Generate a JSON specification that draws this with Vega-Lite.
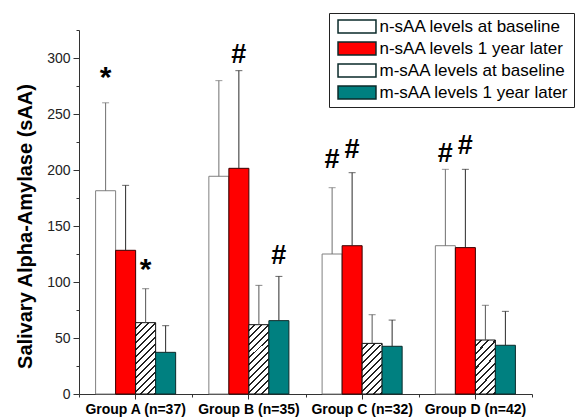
{
  "$schema": "https://vega.github.io/schema/vega-lite/v6.json",
  "width": 453,
  "height": 364,
  "autosize": {"type": "none"},
  "padding": {"left": 79, "top": 30, "right": 43, "bottom": 24},
  "background": "white",
  "config": {
    "view": {"stroke": null},
    "font": "Liberation Sans",
    "axis": {"domainColor": "#333333", "tickColor": "#333333", "labelColor": "#111111", "grid": false}
  },
  "datasets": {
    "bars": [
      {"group": "Group A (n=37)", "series": "n-sAA levels at baseline", "mean": 181.5, "upper": 260},
      {"group": "Group A (n=37)", "series": "n-sAA levels 1 year later", "mean": 128.3, "upper": 186.3},
      {"group": "Group A (n=37)", "series": "m-sAA levels at baseline", "mean": 63.7, "upper": 94},
      {"group": "Group A (n=37)", "series": "m-sAA levels 1 year later", "mean": 37.2, "upper": 61},
      {"group": "Group B (n=35)", "series": "n-sAA levels at baseline", "mean": 194.4, "upper": 279.8},
      {"group": "Group B (n=35)", "series": "n-sAA levels 1 year later", "mean": 201.5, "upper": 288.7},
      {"group": "Group B (n=35)", "series": "m-sAA levels at baseline", "mean": 61.9, "upper": 97},
      {"group": "Group B (n=35)", "series": "m-sAA levels 1 year later", "mean": 65.5, "upper": 105},
      {"group": "Group C (n=32)", "series": "n-sAA levels at baseline", "mean": 125, "upper": 184.2},
      {"group": "Group C (n=32)", "series": "n-sAA levels 1 year later", "mean": 132.4, "upper": 197.6},
      {"group": "Group C (n=32)", "series": "m-sAA levels at baseline", "mean": 45.2, "upper": 70.8},
      {"group": "Group C (n=32)", "series": "m-sAA levels 1 year later", "mean": 42.6, "upper": 66},
      {"group": "Group D (n=42)", "series": "n-sAA levels at baseline", "mean": 132.4, "upper": 200.6},
      {"group": "Group D (n=42)", "series": "n-sAA levels 1 year later", "mean": 130.7, "upper": 200.6},
      {"group": "Group D (n=42)", "series": "m-sAA levels at baseline", "mean": 48.2, "upper": 79.2},
      {"group": "Group D (n=42)", "series": "m-sAA levels 1 year later", "mean": 43.5, "upper": 73.8}
    ],
    "marks": [
      {"group": "Group A (n=37)", "series": "n-sAA levels at baseline", "label": "*", "pos": 289},
      {"group": "Group A (n=37)", "series": "m-sAA levels at baseline", "label": "*", "pos": 118},
      {"group": "Group B (n=35)", "series": "n-sAA levels 1 year later", "label": "#", "pos": 303.6},
      {"group": "Group B (n=35)", "series": "m-sAA levels 1 year later", "label": "#", "pos": 124},
      {"group": "Group C (n=32)", "series": "n-sAA levels at baseline", "label": "#", "pos": 210},
      {"group": "Group C (n=32)", "series": "n-sAA levels 1 year later", "label": "#", "pos": 219},
      {"group": "Group D (n=42)", "series": "n-sAA levels at baseline", "label": "#", "pos": 215},
      {"group": "Group D (n=42)", "series": "n-sAA levels 1 year later", "label": "#", "pos": 222}
    ]
  },
  "layer": [
    {
      "data": {"name": "bars"},
      "mark": {"type": "bar", "strokeWidth": 1},
      "encoding": {
        "x": {
          "field": "group", "type": "nominal", "sort": null,
          "scale": {"paddingInner": 0, "paddingOuter": 0},
          "axis": {"orient": "bottom", "title": null, "labelAngle": 0, "labelFont": "Liberation Sans", "labelFontSize": 14, "labelFontWeight": "bold", "labelColor": "#000000", "tickSize": 5, "labelPadding": 3, "domainColor": "#333333"}
        },
        "xOffset": {
          "field": "series", "type": "nominal", "sort": null,
          "scale": {"paddingInner": 0, "paddingOuter": 0.83}
        },
        "y": {
          "field": "mean", "type": "quantitative",
          "scale": {"domain": [0, 325], "nice": false},
          "axis": {"orient": "left", "values": [0, 50, 100, 150, 200, 250, 300], "tickSize": 6, "labelFontSize": 14, "labelPadding": 3, "labelColor": "#222222", "title": "Salivary Alpha-Amylase (sAA)", "titleFontSize": 20, "titleFontWeight": "bold", "titleColor": "#000000", "titleBaseline": "middle", "titleX": -54, "titleY": 196}
        },
        "fill": {
          "field": "series", "type": "nominal", "sort": null,
          "scale": {
            "domain": ["n-sAA levels at baseline", "n-sAA levels 1 year later", "m-sAA levels at baseline", "m-sAA levels 1 year later"],
            "range": ["#ffffff", "#ff0000", "#ffffff", "#008080"]
          },
          "condition": [
            {
              "test": "datum.series === 'm-sAA levels at baseline' && (datum.group === 'Group A (n=37)' || datum.group === 'Group B (n=35)')",
              "value": {"gradient": "linear", "x1": 0, "y1": 0, "x2": 0.34, "y2": 1.19, "stops": [
                {"offset": 0, "color": "#ffffff"}, {"offset": 0.0554, "color": "#ffffff"}, {"offset": 0.0554, "color": "#222222"}, {"offset": 0.0769, "color": "#222222"},
                {"offset": 0.0769, "color": "#ffffff"}, {"offset": 0.1323, "color": "#ffffff"}, {"offset": 0.1323, "color": "#222222"}, {"offset": 0.1538, "color": "#222222"},
                {"offset": 0.1538, "color": "#ffffff"}, {"offset": 0.2092, "color": "#ffffff"}, {"offset": 0.2092, "color": "#222222"}, {"offset": 0.2308, "color": "#222222"},
                {"offset": 0.2308, "color": "#ffffff"}, {"offset": 0.2862, "color": "#ffffff"}, {"offset": 0.2862, "color": "#222222"}, {"offset": 0.3077, "color": "#222222"},
                {"offset": 0.3077, "color": "#ffffff"}, {"offset": 0.3631, "color": "#ffffff"}, {"offset": 0.3631, "color": "#222222"}, {"offset": 0.3846, "color": "#222222"},
                {"offset": 0.3846, "color": "#ffffff"}, {"offset": 0.44, "color": "#ffffff"}, {"offset": 0.44, "color": "#222222"}, {"offset": 0.4615, "color": "#222222"},
                {"offset": 0.4615, "color": "#ffffff"}, {"offset": 0.5169, "color": "#ffffff"}, {"offset": 0.5169, "color": "#222222"}, {"offset": 0.5385, "color": "#222222"},
                {"offset": 0.5385, "color": "#ffffff"}, {"offset": 0.5938, "color": "#ffffff"}, {"offset": 0.5938, "color": "#222222"}, {"offset": 0.6154, "color": "#222222"},
                {"offset": 0.6154, "color": "#ffffff"}, {"offset": 0.6708, "color": "#ffffff"}, {"offset": 0.6708, "color": "#222222"}, {"offset": 0.6923, "color": "#222222"},
                {"offset": 0.6923, "color": "#ffffff"}, {"offset": 0.7477, "color": "#ffffff"}, {"offset": 0.7477, "color": "#222222"}, {"offset": 0.7692, "color": "#222222"},
                {"offset": 0.7692, "color": "#ffffff"}, {"offset": 0.8246, "color": "#ffffff"}, {"offset": 0.8246, "color": "#222222"}, {"offset": 0.8462, "color": "#222222"},
                {"offset": 0.8462, "color": "#ffffff"}, {"offset": 0.9015, "color": "#ffffff"}, {"offset": 0.9015, "color": "#222222"}, {"offset": 0.9231, "color": "#222222"},
                {"offset": 0.9231, "color": "#ffffff"}, {"offset": 0.9785, "color": "#ffffff"}, {"offset": 0.9785, "color": "#222222"}, {"offset": 1, "color": "#222222"}
              ]}
            },
            {
              "test": "datum.series === 'm-sAA levels at baseline'",
              "value": {"gradient": "linear", "x1": 0, "y1": 0, "x2": 0.46, "y2": 1.2, "stops": [
                {"offset": 0, "color": "#ffffff"}, {"offset": 0.072, "color": "#ffffff"}, {"offset": 0.072, "color": "#222222"}, {"offset": 0.1, "color": "#222222"},
                {"offset": 0.1, "color": "#ffffff"}, {"offset": 0.172, "color": "#ffffff"}, {"offset": 0.172, "color": "#222222"}, {"offset": 0.2, "color": "#222222"},
                {"offset": 0.2, "color": "#ffffff"}, {"offset": 0.272, "color": "#ffffff"}, {"offset": 0.272, "color": "#222222"}, {"offset": 0.3, "color": "#222222"},
                {"offset": 0.3, "color": "#ffffff"}, {"offset": 0.372, "color": "#ffffff"}, {"offset": 0.372, "color": "#222222"}, {"offset": 0.4, "color": "#222222"},
                {"offset": 0.4, "color": "#ffffff"}, {"offset": 0.472, "color": "#ffffff"}, {"offset": 0.472, "color": "#222222"}, {"offset": 0.5, "color": "#222222"},
                {"offset": 0.5, "color": "#ffffff"}, {"offset": 0.572, "color": "#ffffff"}, {"offset": 0.572, "color": "#222222"}, {"offset": 0.6, "color": "#222222"},
                {"offset": 0.6, "color": "#ffffff"}, {"offset": 0.672, "color": "#ffffff"}, {"offset": 0.672, "color": "#222222"}, {"offset": 0.7, "color": "#222222"},
                {"offset": 0.7, "color": "#ffffff"}, {"offset": 0.772, "color": "#ffffff"}, {"offset": 0.772, "color": "#222222"}, {"offset": 0.8, "color": "#222222"},
                {"offset": 0.8, "color": "#ffffff"}, {"offset": 0.872, "color": "#ffffff"}, {"offset": 0.872, "color": "#222222"}, {"offset": 0.9, "color": "#222222"},
                {"offset": 0.9, "color": "#ffffff"}, {"offset": 0.972, "color": "#ffffff"}, {"offset": 0.972, "color": "#222222"}, {"offset": 1, "color": "#222222"}
              ]}
            }
          ],
          "legend": {
            "orient": "none", "legendX": 250, "legendY": -17, "title": null,
            "strokeColor": "#222222", "fillColor": "#ffffff", "padding": 5,
            "labelFont": "Liberation Sans", "labelFontSize": 17, "labelColor": "#000000", "labelOffset": 14, "labelLimit": 300,
            "symbolType": "M-2.92,-1H2.92V1H-2.92Z", "symbolSize": 169, "symbolOffset": 14.5,
            "rowPadding": 3,
            "encode": {
              "symbols": {
                "stroke": {"value": "#222222"},
                "strokeWidth": {"value": 1},
                "shape": {
                  "condition": {"test": "datum.value === 'm-sAA levels at baseline'", "value": "M-2.92,-1H2.92V1H-2.92Z M-2.92,-0.7L-2.62,-1 M-2.92,0L-1.92,-1 M-2.92,0.7L-1.22,-1 M-2.52,1L-0.52,-1 M-1.82,1L0.18,-1 M-1.12,1L0.88,-1 M-0.42,1L1.58,-1 M0.28,1L2.28,-1 M0.98,1L2.92,-0.94 M1.68,1L2.92,-0.24 M2.38,1L2.92,0.46"},
                  "value": "M-2.92,-1H2.92V1H-2.92Z"
                }
              }
            }
          }
        },
        "stroke": {
          "condition": [
            {"test": "datum.series === 'n-sAA levels at baseline'", "value": "#808080"},
            {"test": "datum.series === 'n-sAA levels 1 year later'", "value": "#3a0000"},
            {"test": "datum.series === 'm-sAA levels at baseline'", "value": "#111111"}
          ],
          "value": "#0a2a2a"
        }
      }
    },
    {
      "data": {"name": "bars"},
      "mark": {"type": "rule", "strokeWidth": 1},
      "encoding": {
        "x": {"field": "group", "type": "nominal", "sort": null, "scale": {"paddingInner": 0, "paddingOuter": 0}, "axis": {"orient": "bottom", "tickBand": "extent", "labels": false, "domain": false, "tickSize": 3, "title": null}},
        "xOffset": {"field": "series", "type": "nominal", "sort": null, "scale": {"paddingInner": 0, "paddingOuter": 0.83}},
        "y": {"field": "mean", "type": "quantitative", "scale": {"domain": [0, 325], "nice": false}, "axis": {"orient": "left", "values": [25, 75, 125, 175, 225, 275, 325], "labels": false, "domain": false, "tickSize": 3, "title": null}},
        "y2": {"field": "upper"},
        "stroke": {
          "condition": [
            {"test": "datum.series === 'n-sAA levels at baseline'", "value": "#707070"},
            {"test": "datum.series === 'm-sAA levels at baseline'", "value": "#555555"}
          ],
          "value": "#2a2a2a"
        }
      }
    },
    {
      "data": {"name": "bars"},
      "mark": {"type": "tick", "orient": "horizontal", "size": 7, "thickness": 1},
      "encoding": {
        "x": {"field": "group", "type": "nominal", "sort": null, "axis": null},
        "xOffset": {"field": "series", "type": "nominal", "sort": null},
        "y": {"field": "upper", "type": "quantitative", "axis": null},
        "color": {
          "condition": [
            {"test": "datum.series === 'n-sAA levels at baseline'", "value": "#707070"},
            {"test": "datum.series === 'm-sAA levels at baseline'", "value": "#555555"}
          ],
          "value": "#2a2a2a"
        }
      }
    },
    {
      "data": {"name": "marks"},
      "transform": [{"filter": "datum.label === '*'"}],
      "mark": {"type": "text", "fontSize": 30, "fontWeight": "bold", "baseline": "middle", "dy": 8, "color": "#000000"},
      "encoding": {
        "x": {"field": "group", "type": "nominal", "sort": null, "axis": null},
        "xOffset": {"field": "series", "type": "nominal", "sort": null},
        "y": {"field": "pos", "type": "quantitative", "axis": null},
        "text": {"field": "label"}
      }
    },
    {
      "data": {"name": "marks"},
      "transform": [{"filter": "datum.label === '#'"}],
      "mark": {"type": "text", "fontSize": 27, "fontWeight": "bold", "baseline": "middle", "dy": 1, "color": "#000000"},
      "encoding": {
        "x": {"field": "group", "type": "nominal", "sort": null, "axis": null},
        "xOffset": {"field": "series", "type": "nominal", "sort": null},
        "y": {"field": "pos", "type": "quantitative", "axis": null},
        "text": {"field": "label"}
      }
    }
  ],
  "resolve": {"axis": {"x": "independent", "y": "independent"}}
}
